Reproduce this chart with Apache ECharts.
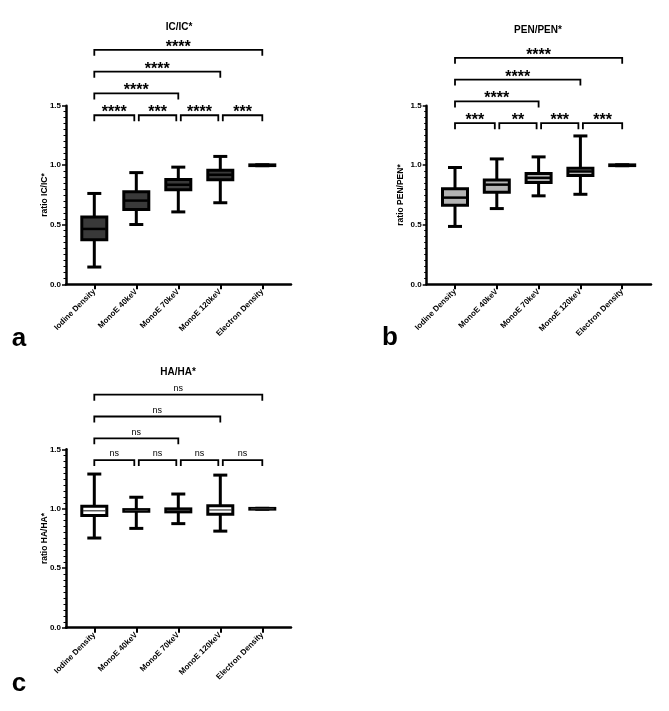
<!DOCTYPE html>
<html>
<head>
<meta charset="utf-8">
<script src="https://cdn.jsdelivr.net/npm/echarts@6/dist/echarts.min.js"></script>
<style>
html,body{margin:0;padding:0;background:#fff;}
#chart{width:669px;height:711px;}
</style>
</head>
<body>
<div id="chart"></div>
<script>
// ---------- data ----------
const categories = ['Iodine Density', 'MonoE 40keV', 'MonoE 70keV', 'MonoE 120keV', 'Electron Density'];
const yTickValues = [0, 0.5, 1.0, 1.5];

// [min, Q1, median, Q3, max]
const icStats = [
  [0.145, 0.375, 0.465, 0.566, 0.763],
  [0.502, 0.628, 0.703, 0.777, 0.938],
  [0.608, 0.795, 0.836, 0.880, 0.984],
  [0.685, 0.878, 0.920, 0.957, 1.074],
  [0.996, 0.997, 1.000, 1.003, 1.004]
];
const penStats = [
  [0.486, 0.664, 0.728, 0.803, 0.981],
  [0.636, 0.774, 0.837, 0.876, 1.053],
  [0.743, 0.855, 0.894, 0.930, 1.070],
  [0.756, 0.913, 0.948, 0.974, 1.246],
  [0.996, 0.997, 1.000, 1.003, 1.004]
];
const haStats = [
  [0.754, 0.943, 0.983, 1.022, 1.292],
  [0.835, 0.979, 0.986, 0.993, 1.097],
  [0.875, 0.974, 0.986, 0.999, 1.124],
  [0.812, 0.953, 0.990, 1.025, 1.283],
  [0.996, 0.997, 1.000, 1.003, 1.004]
];

// pairwise comparisons (category indices) and significance labels
const comparisons = [[0, 1], [1, 2], [2, 3], [3, 4], [0, 2], [0, 3], [0, 4]];
const icSig  = ['****', '***', '****', '***', '****', '****', '****'];
const penSig = ['***', '**', '***', '***', '****', '****', '****'];
const haSig  = ['ns', 'ns', 'ns', 'ns', 'ns', 'ns', 'ns'];

const titles = ['IC/IC*', 'PEN/PEN*', 'HA/HA*'];
const yNames = ['ratio IC/IC*', 'ratio PEN/PEN*', 'ratio HA/HA*'];
const panelLetters = ['a', 'b', 'c'];

// ---------- layout / style ----------
const FONT = '"Liberation Sans", Arial, sans-serif';
const panels = [
  {stats: icStats, sig: icSig, fill: '#393939', median: '#000', medianW: 2.5,
   axL: 66, axR: 291, catL: 73.3, catW: 210, top: 105.7, h: 178.6,
   base: 1.420, nameGap: 16.5, titleX: 179, titleY: 27, letterX: 19, letterY: 339},
  {stats: penStats, sig: penSig, fill: '#b4b4b4', median: '#000', medianW: 2.5,
   axL: 426.7, axR: 651, catL: 434.1, catW: 209, top: 105.7, h: 178.6,
   base: 1.353, nameGap: 22, titleX: 538, titleY: 30.5, letterX: 390, letterY: 338},
  {stats: haStats, sig: haSig, fill: '#ffffff', median: '#333', medianW: 1.2,
   axL: 66, axR: 291, catL: 73.3, catW: 210, top: 449.3, h: 178.4,
   base: 1.409, nameGap: 16.5, titleX: 178, titleY: 372, letterX: 19, letterY: 684}
];

const W = 669, H = 711;
const grids = [], xAxes = [], yAxes = [], series = [], graphics = [];

panels.forEach((p, k) => {
  const gWide = grids.length;
  grids.push({left: p.axL, top: p.top, width: p.axR - p.axL, height: p.h, containLabel: false});
  const gCat = grids.length;
  grids.push({left: p.catL, top: p.top, width: p.catW, height: p.h, containLabel: false});

  // wide grid: axis lines, y labels
  xAxes.push({gridIndex: gWide, type: 'value', min: 0, max: 1, position: 'bottom',
    axisLine: {show: true, onZero: false, lineStyle: {color: '#000', width: 2.5}},
    axisTick: {show: false}, axisLabel: {show: false}, splitLine: {show: false}});
  yAxes.push({gridIndex: gWide, type: 'value', min: yTickValues[0], max: yTickValues[yTickValues.length - 1],
    interval: yTickValues[1] - yTickValues[0],
    name: yNames[k], nameLocation: 'middle', nameGap: p.nameGap, nameMoveOverlap: false,
    nameTextStyle: {fontFamily: FONT, fontWeight: 'bold', fontSize: 8.5, color: '#000'},
    axisLine: {show: true, onZero: false, lineStyle: {color: '#000', width: 2.5}},
    axisTick: {show: true, length: 4, lineStyle: {color: '#000', width: 1.5}},
    minorTick: {show: true, splitNumber: 10, length: 2.5, lineStyle: {color: '#000', width: 1}},
    axisLabel: {fontFamily: FONT, fontWeight: 'bold', fontSize: 8, color: '#000', margin: 5,
      formatter: v => v.toFixed(1)},
    splitLine: {show: false}, minorSplitLine: {show: false}});

  // category grid: ticks, labels, marks
  const xCat = xAxes.length;
  xAxes.push({gridIndex: gCat, type: 'category', data: categories, position: 'bottom', boundaryGap: true,
    axisLine: {show: false},
    axisTick: {show: true, alignWithLabel: true, length: 5, lineStyle: {color: '#000', width: 2}},
    axisLabel: {rotate: 45, interval: 0, fontFamily: FONT, fontWeight: 'bold', fontSize: 8, color: '#000', margin: 6},
    splitLine: {show: false}});
  const yCat = yAxes.length;
  yAxes.push({gridIndex: gCat, type: 'value', min: yTickValues[0], max: yTickValues[yTickValues.length - 1],
    show: false, splitLine: {show: false}});

  const boxData = p.stats.map((s, i) => [i].concat(s));
  series.push({
    type: 'custom', xAxisIndex: xCat, yAxisIndex: yCat, clip: false,
    encode: {x: 0, y: [1, 2, 3, 4, 5]},
    data: boxData,
    renderItem: function (params, api) {
      const i = api.value(0);
      const pMin = api.coord([i, api.value(1)]);
      const x = pMin[0], yMin = pMin[1];
      const yQ1 = api.coord([i, api.value(2)])[1];
      const yMed = api.coord([i, api.value(3)])[1];
      const yQ3 = api.coord([i, api.value(4)])[1];
      const yMax = api.coord([i, api.value(5)])[1];
      const bw = 25, cw = 14, lw = 3;
      const ls = {stroke: '#000', lineWidth: lw, fill: null};
      return {type: 'group', children: [
        {type: 'line', shape: {x1: x, y1: yMax, x2: x, y2: yQ3}, style: ls},
        {type: 'line', shape: {x1: x, y1: yQ1, x2: x, y2: yMin}, style: ls},
        {type: 'line', shape: {x1: x - cw / 2, y1: yMax, x2: x + cw / 2, y2: yMax}, style: ls},
        {type: 'line', shape: {x1: x - cw / 2, y1: yMin, x2: x + cw / 2, y2: yMin}, style: ls},
        {type: 'rect', shape: {x: x - bw / 2, y: yQ3, width: bw, height: Math.max(yQ1 - yQ3, 0.5)},
          style: {fill: p.fill, stroke: '#000', lineWidth: lw}},
        {type: 'line', shape: {x1: x - bw / 2 + 1, y1: yMed, x2: x + bw / 2 - 1, y2: yMed},
          style: {stroke: p.median, lineWidth: p.medianW}}
      ]};
    }
  });

  // significance brackets
  const brData = comparisons.map((c, j) => [c[0], c[1], p.base, j]);
  series.push({
    type: 'custom', xAxisIndex: xCat, yAxisIndex: yCat, clip: false, silent: true,
    encode: {x: [0, 1], y: 2},
    data: brData,
    renderItem: function (params, api) {
      const a = api.value(0), b = api.value(1), j = api.value(3);
      const level = b - a - 1;
      const pA = api.coord([a, api.value(2)]);
      const pB = api.coord([b, api.value(2)]);
      const y = pA[1] - level * 21.8;
      const touchL = comparisons.some(c => c[1] === a && c[1] - c[0] === b - a);
      const touchR = comparisons.some(c => c[0] === b && c[1] - c[0] === b - a);
      const x1 = pA[0] + (touchL ? 2.5 : 0);
      const x2 = pB[0] - (touchR ? 2 : 0);
      const lbl = p.sig[j];
      const isNs = lbl === 'ns';
      return {type: 'group', children: [
        {type: 'polyline', shape: {points: [[x1, y + 6], [x1, y], [x2, y], [x2, y + 6]]},
          style: {stroke: '#000', lineWidth: 1.8, fill: null}},
        {type: 'text', x: (x1 + x2) / 2, y: isNs ? y - 6.3 : y - 2.5,
          style: {text: lbl, fontFamily: FONT, fontWeight: isNs ? 'normal' : 'bold',
            fontSize: isNs ? 9 : 16, fill: '#000', align: 'center', verticalAlign: 'middle'}}
      ]};
    }
  });

  graphics.push({type: 'text', x: p.titleX, y: p.titleY,
    style: {text: titles[k], fontFamily: FONT, fontWeight: 'bold', fontSize: 10, fill: '#000',
      align: 'center', verticalAlign: 'middle'}});
  graphics.push({type: 'text', x: p.letterX, y: p.letterY,
    style: {text: panelLetters[k], fontFamily: FONT, fontWeight: 'bold', fontSize: 26, fill: '#000',
      align: 'center', verticalAlign: 'middle'}});
});

const chart = echarts.init(document.getElementById('chart'), null, {renderer: 'canvas', width: W, height: H});
chart.setOption({
  backgroundColor: '#fff',
  animation: false,
  grid: grids,
  xAxis: xAxes,
  yAxis: yAxes,
  series: series,
  graphic: graphics
});
</script>
</body>
</html>
